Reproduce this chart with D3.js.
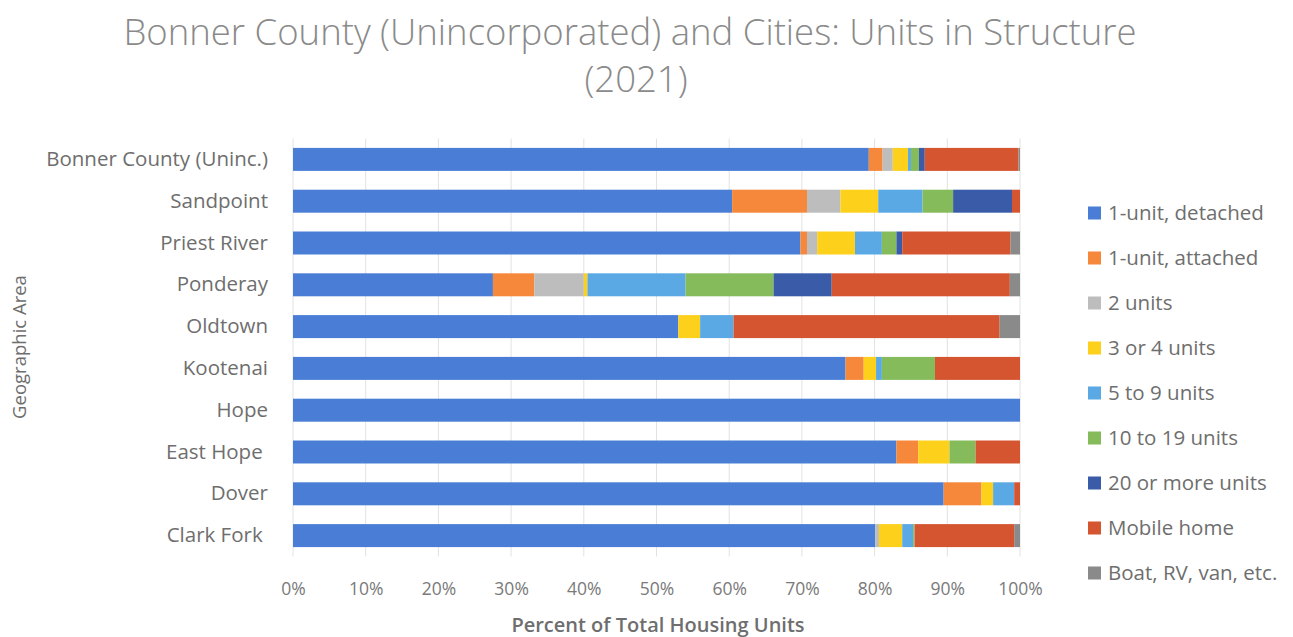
<!DOCTYPE html>
<html>
<head>
<meta charset="utf-8">
<script src="https://cdn.jsdelivr.net/npm/d3@7"></script>
<style>
  html, body { margin: 0; padding: 0; background: #ffffff; }
  svg { display: block; }
  text { font-family: "Open Sans", "Noto Sans", sans-serif; fill: #757575; }
</style>
</head>
<body>
<svg id="chart" width="1293" height="637"></svg>
<script>
// ---------- data ----------
const categories = ["Bonner County (Uninc.)", "Sandpoint", "Priest River", "Ponderay", "Oldtown",
                    "Kootenai", "Hope", "East Hope ", "Dover", "Clark Fork "];
const seriesNames = ["1-unit, detached", "1-unit, attached", "2 units", "3 or 4 units", "5 to 9 units",
                     "10 to 19 units", "20 or more units", "Mobile home", "Boat, RV, van, etc."];
const detached   = [79.2, 60.4, 69.8, 27.5, 53.0, 76.0, 100, 83.0, 89.5, 80.1];
const attached   = [ 1.9, 10.3,  0.9,  5.7,  0.0,  2.5,   0,  3.0,  5.2,  0.0];
const twoUnits   = [ 1.4,  4.6,  1.4,  6.8,  0.0,  0.0,   0,  0.0,  0.0,  0.5];
const threeFour  = [ 2.1,  5.2,  5.2,  0.5,  3.0,  1.7,   0,  4.3,  1.6,  3.2];
const fiveNine   = [ 0.4,  6.1,  3.7, 13.5,  4.6,  0.8,   0,  0.0,  2.9,  1.5];
const tenNineteen= [ 1.1,  4.2,  2.0, 12.1,  0.0,  7.3,   0,  3.6,  0.0,  0.2];
const twentyPlus = [ 0.8,  8.1,  0.8,  8.0,  0.0,  0.0,   0,  0.0,  0.0,  0.0];
const mobileHome = [12.9,  1.1, 14.9, 24.5, 36.6, 11.7,   0,  6.1,  0.8, 13.7];
const boatRV     = [ 0.2,  0.0,  1.3,  1.4,  2.8,  0.0,   0,  0.0,  0.0,  0.8];
const tickValues = [0, 10, 20, 30, 40, 50, 60, 70, 80, 90, 100];
const colors = ["#4a7ed6", "#f5883a", "#bdbdbd", "#fdd01c", "#5aa9e4", "#86bb5c", "#3a5ca8", "#d4552f", "#8a8a8a"];

const seriesValues = [detached, attached, twoUnits, threeFour, fiveNine, tenNineteen, twentyPlus, mobileHome, boatRV];
const table = categories.map((c, i) => {
  const row = { cat: c };
  seriesNames.forEach((s, j) => row[s] = seriesValues[j][i]);
  return row;
});

// ---------- layout ----------
const svg = d3.select("#chart");
const margin = { left: 293, right: 273, top: 138.5, bottom: 80.5 };
const W = 1293, H = 637;
const x = d3.scaleLinear().domain([0, 100]).range([margin.left, W - margin.right]);
const y = d3.scaleBand().domain(categories).range([margin.top, H - margin.bottom]).paddingInner(0.45).paddingOuter(0.225);
const color = d3.scaleOrdinal().domain(seriesNames).range(colors);

// title
const title = svg.append("g");
title.append("text").attr("x", 630).attr("y", 45).attr("text-anchor", "middle")
  .style("font-size", "36.5px").style("font-weight", 300).style("fill", "#8a8a8a")
  .text("Bonner County (Unincorporated) and Cities: Units in Structure");
title.append("text").attr("x", 636).attr("y", 92).attr("text-anchor", "middle")
  .style("font-size", "36.5px").style("font-weight", 300).style("fill", "#8a8a8a")
  .text("(2021)");

// gridlines
svg.append("g").selectAll("line").data(tickValues).join("line")
  .attr("x1", d => x(d)).attr("x2", d => x(d))
  .attr("y1", margin.top).attr("y2", H - margin.bottom)
  .attr("stroke", "#e2e2e2").attr("stroke-width", 1);

// bars
const stack = d3.stack().keys(seriesNames)(table);
svg.append("g").selectAll("g").data(stack).join("g")
  .attr("fill", d => color(d.key))
  .selectAll("rect").data(d => d).join("rect")
  .attr("x", d => x(d[0]))
  .attr("y", d => y(d.data.cat))
  .attr("width", d => Math.max(0, x(d[1]) - x(d[0])))
  .attr("height", y.bandwidth());

// x axis
const xAxis = svg.append("g").attr("transform", `translate(0,${H - margin.bottom})`)
  .call(d3.axisBottom(x).tickValues(tickValues).tickFormat(d => d + "%").tickSize(0).tickPadding(26));
xAxis.select(".domain").remove();
xAxis.selectAll("text").style("font-size", "17.5px").style("fill", "#7a7a7a").style("font-family", "\"Open Sans\", sans-serif");

// y axis
const yAxis = svg.append("g").attr("transform", `translate(${margin.left},0)`)
  .call(d3.axisLeft(y).tickSize(0).tickPadding(25));
yAxis.select(".domain").remove();
yAxis.selectAll("text").style("font-size", "20.5px").style("fill", "#6e6e6e")
  .style("white-space", "pre").style("font-family", "\"Open Sans\", sans-serif");

// axis titles
svg.append("text").attr("x", 658).attr("y", 632).attr("text-anchor", "middle")
  .style("font-size", "20px").style("font-weight", 600).style("fill", "#6e6e6e")
  .text("Percent of Total Housing Units");
svg.append("text").attr("transform", "translate(26,347) rotate(-90)").attr("text-anchor", "middle")
  .style("font-size", "18.5px").style("font-weight", 500).style("fill", "#6e6e6e")
  .text("Geographic Area");

// legend
const legend = svg.append("g").selectAll("g").data(seriesNames).join("g")
  .attr("transform", (d, i) => `translate(1088,${213 + i * 45})`);
legend.append("rect").attr("x", 0).attr("y", -6.5).attr("width", 13).attr("height", 13)
  .attr("fill", d => color(d));
legend.append("text").attr("x", 20).attr("y", 0).attr("dy", "0.35em")
  .style("font-size", "20.5px").style("fill", "#6e6e6e").text(d => d);
</script>
</body>
</html>
